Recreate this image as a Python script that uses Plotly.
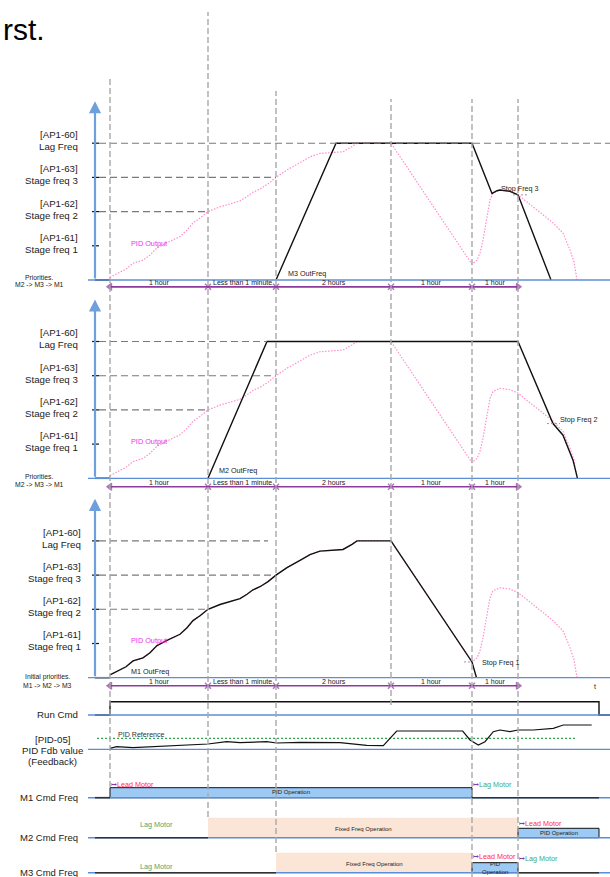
import plotly.graph_objects as go

W, H = 610, 877
FONT = "Liberation Sans, Arial, sans-serif"

# ---------------- data ----------------
EVENT_T = [0, 9.8, 16.6, 28.1, 36.2, 40.8]
SEG_LABELS = ["1 hour", "Less than 1 minute", "2 hours", "1 hour", "1 hour"]

LEVELS = [10, 20, 30, 40]
LEVEL_CODES = ["[AP1-61]", "[AP1-62]", "[AP1-63]", "[AP1-60]"]
LEVEL_NAMES = ["Stage freq 1", "Stage freq 2", "Stage freq 3", "Lag Freq"]

PID_T = [0, 1.0, 1.6, 2.3, 3.3, 4.0, 4.7, 5.7, 6.3, 7.0, 7.7, 8.3, 9.0, 9.8, 11.0, 12.3,
         13.0, 13.7, 14.3, 15.0, 15.8, 16.6, 17.7, 19.0, 20.0, 21.0, 23.3, 24.2, 24.7, 28.1,
         36.2, 36.7, 37.0, 37.3, 37.7, 38.0, 38.3, 39.0, 40.0, 40.8, 42.3, 44.3, 45.3, 46.0,
         46.4, 46.7]
PID_F = [0.8, 2.4, 3.2, 4.9, 5.8, 7.3, 9.4, 10.9, 11.7, 12.7, 14.6, 16.7, 18.1, 20.0, 21.4, 22.5,
         23.1, 24.4, 25.7, 26.6, 28.1, 30.0, 32.2, 34.3, 36.0, 37.0, 37.5, 39.0, 40.0, 40.0,
         4.6, 5.8, 7.9, 11.7, 18.5, 23.4, 25.4, 26.3, 25.9, 24.9, 21.4, 16.7, 13.7, 8.8,
         5.3, 0]

M3_OUT_T = [16.6, 22.6, 36.2, 38.2, 38.7, 39.0, 40.0, 40.8, 44.1]
M3_OUT_F = [0, 40, 40, 25.3, 26.1, 26.3, 25.9, 24.9, 0]
M2_OUT_T = [9.8, 15.7, 40.8, 44.3, 45.3, 46.3, 46.75]
M2_OUT_F = [0, 40, 40, 16.0, 12.6, 5.3, 0]
M1_STOP_T = 36.65
STOP_FREQS = [24.9, 16.0, 4.6]

RUN_T = [-1.5, 0, 0, 48.9, 48.9, 50]
RUN_V = [0, 0, 1, 1, 0, 0]

FDB_T = [0, 0.67, 2.3, 5.67, 9.0, 9.8, 11.67, 13.0, 15.67, 16.67, 19.0, 23.0, 25.67, 27.33,
         28.67, 35.27, 36.0, 36.83, 37.5, 38.33, 39.0, 40.0, 40.8, 42.33, 44.33, 45.33, 48.17]
FDB_V = [1.0, 2.6, 1.6, 3.3, 4.3, 5.3, 7.6, 6.6, 7.6, 6.3, 7.0, 6.6, 4.0, 3.6,
         18.3, 18.3, 9.3, 4.3, 7.6, 17.6, 19.3, 17.6, 19.3, 19.3, 21.0, 24.3, 24.3]
PID_REF = 11

MOTORS = ["M1 Cmd Freq", "M2 Cmd Freq", "M3 Cmd Freq"]
# (start, end, kind) kind: pid / fixed
MOTOR_BARS = [
    [(0, 36.2, "pid")],
    [(9.8, 40.8, "fixed"), (40.8, 48.9, "pid")],
    [(16.6, 36.2, "fixed"), (36.2, 40.8, "pid")],
]
BAR_HEIGHT = {"pid": 10, "fixed": 20}
MOTOR_IDLE = [[(-1.5, 0), (36.2, 48.9)], [(-1.5, 9.8)], [(-1.5, 16.6), (40.8, 48.9)]]

# ---------------- styles ----------------
AX_BLUE = "#6f9fdc"
BASE_BLUE = "#5b8ed6"
PURPLE = "#8e3a9d"
PINK = "#ff8fcc"
HDASH = "#7a7a7a"
VDASH = "#a8a8a8"
GREEN = "#45a872"
RED = "#ff3030"
MAGENTA = "#ee2eee"
BAR_BLUE = "#9ccaf5"
PEACH = "#fbe5d6"
TXT = "#222222"

# y-axes: (name, base pixel, px per unit)
AXES = [("y", 280, 3.42), ("y2", 478.3, 3.42), ("y3", 677.7, 3.42),
        ("y4", 715, 13.3), ("y5", 749.3, 1.0),
        ("y6", 797.7, 1.0), ("y7", 837.7, 1.0), ("y8", 872.7, 1.0)]

fig = go.Figure()
ann = []
shapes = []


def line(x, y, yax, color, width=1.3, dash=None, shape="linear"):
    fig.add_trace(go.Scatter(x=x, y=y, mode="lines", yaxis=yax, xaxis="x",
                             line=dict(color=color, width=width, dash=dash, shape=shape),
                             hoverinfo="skip"))


def txt(x, y, yref, text, size, color=TXT, xanchor="center", yanchor="middle"):
    ann.append(dict(x=x, y=y, xref="x", yref=yref, text=text, showarrow=False,
                    font=dict(size=size, color=color, family=FONT),
                    xanchor=xanchor, yanchor=yanchor))


def hseg(x0, x1, y, yref, color, width=1.2, dash=None):
    shapes.append(dict(type="line", xref="x", yref=yref, x0=x0, x1=x1, y0=y, y1=y,
                       line=dict(color=color, width=width, dash=dash)))


# ---------------- frequency panels ----------------
PANELS = [
    dict(y="y", out_t=M3_OUT_T, out_f=M3_OUT_F, out_lbl="M3 OutFreq", out_lbl_pos=(17.6, 2.0),
         stop_lbl="Stop Freq 3", stop_lbl_pos=(38.9, 26.8), stop_dash=(40.3, 41.7),
         dash_end=[None, 9.8, 16.6, 50], lbl_x=-3.0, row=-2.0,
         prio=["Priorities.", "M2 -> M3 -> M1"], prio_pos=(-7.1, 0.67, -1.26)),
    dict(y="y2", out_t=M2_OUT_T, out_f=M2_OUT_F, out_lbl="M2 OutFreq", out_lbl_pos=(10.67, 2.2),
         stop_lbl="Stop Freq 2", stop_lbl_pos=(44.83, 17.3), stop_dash=(43.7, 45.0),
         dash_end=[None, 9.8, 16.6, 15.7], lbl_x=-3.0, row=-2.45,
         prio=["Priorities.", "M2 -> M3 -> M1"], prio_pos=(-7.1, 0.47, -1.67)),
    dict(y="y3", out_t=None, out_f=None, out_lbl="M1 OutFreq", out_lbl_pos=(1.93, 1.75),
         stop_lbl="Stop Freq 1", stop_lbl_pos=(37.0, 4.4), stop_dash=(35.4, 36.2),
         dash_end=[None, 9.8, 16.6, 15.8], lbl_x=-2.75, row=-2.35,
         prio=["Initial priorities.", "M1 -> M2 -> M3"], prio_pos=(-6.3, 0.1, -2.4)),
]

k_stop = PID_T.index(36.2)
PANELS[2]["out_t"] = PID_T[:k_stop + 1] + [M1_STOP_T]
PANELS[2]["out_f"] = PID_F[:k_stop + 1] + [0]

for i, p in enumerate(PANELS):
    yr = p["y"]
    # baseline
    hseg(-2.2, 50, 0, yr, BASE_BLUE, 1.3)
    # vertical axis with arrow
    ann.append(dict(x=-1.5, y=52.3, xref="x", yref=yr, ax=-1.5, ay=0, axref="x", ayref=yr,
                    showarrow=True, arrowhead=2, arrowsize=1.1, arrowwidth=2.2,
                    arrowcolor=AX_BLUE, text=""))
    # level dashed lines, ticks and labels
    for lv, code, name, end in zip(LEVELS, LEVEL_CODES, LEVEL_NAMES, p["dash_end"]):
        if end is not None:
            hseg(-1.1, end, lv, yr, HDASH, 1.1, "7px,4px")
        hseg(-1.8, -1.1, lv, yr, "#111111", 1.2)
        txt(p["lbl_x"], lv + 2.5, yr, code, 9.7, xanchor="right")
        txt(p["lbl_x"], lv - 1.0, yr, name, 9.7, xanchor="right")
    # PID output (pink dotted)
    line(PID_T, PID_F, yr, PINK, 1.2, "1.5px,1.5px")
    # motor output
    line([-1.5, 0], [0, 0], yr, "#111111", 1.5)
    line(p["out_t"], p["out_f"], yr, "#111111", 1.4)
    txt(1.9, 10.8, yr, "PID Output", 7.3, MAGENTA, xanchor="left")
    txt(p["out_lbl_pos"][0], p["out_lbl_pos"][1], yr, p["out_lbl"], 7.2, xanchor="left")
    sf = STOP_FREQS[i]
    hseg(p["stop_dash"][0], p["stop_dash"][1], sf, yr, "#999999", 1, "2px,2px")
    txt(p["stop_lbl_pos"][0], p["stop_lbl_pos"][1], yr, p["stop_lbl"], 7.2, xanchor="left")
    px, py1, py2 = p["prio_pos"]
    txt(px, py1, yr, p["prio"][0], 6.8)
    txt(px, py2, yr, p["prio"][1], 6.8)
    # time segment row
    row = p["row"]
    fig.add_trace(go.Scatter(
        x=EVENT_T, y=[row] * len(EVENT_T), yaxis=yr, xaxis="x", mode="lines+markers",
        line=dict(color=PURPLE, width=1.6),
        marker=dict(symbol=["triangle-left", "x-thin", "x-thin", "x-thin", "x-thin", "triangle-right"],
                    size=[6, 6, 6, 6, 6, 6], color=PURPLE, line=dict(color=PURPLE, width=1.4)),
        hoverinfo="skip"))
    for a, b, lab in zip(EVENT_T[:-1], EVENT_T[1:], SEG_LABELS):
        txt((a + b) / 2, row + 1.15, yr, lab, 7)

txt(48.5, -2.7, "y3", "t", 7)

# ---------------- Run Cmd ----------------
hseg(-2.2, 50, 0, "y4", BASE_BLUE, 1.3)
line(RUN_T, RUN_V, "y4", "#111111", 1.4)
txt(-3.0, 0.05, "y4", "Run Cmd", 9.7, xanchor="right")

# ---------------- PID feedback ----------------
hseg(-2.2, 50, 0, "y5", BASE_BLUE, 1.3)
line([-1.3, 46.7], [PID_REF, PID_REF], "y5", "#2ea84e", 1.3, "2px,2px")
line(FDB_T, FDB_V, "y5", "#111111", 1.2)
txt(3.1, PID_REF + 3.2, "y5", "PID Reference", 7.1, "#333333")
txt(-5.75, 10.3, "y5", "[PID-05]", 9.7)
txt(-5.75, -0.7, "y5", "PID Fdb value", 9.7)
txt(-5.75, -11.7, "y5", "(Feedback)", 9.7)

# ---------------- motor command rows ----------------
MOTOR_AX = ["y6", "y7", "y8"]
for m, (name, yr) in enumerate(zip(MOTORS, MOTOR_AX)):
    hseg(-2.2, 50, 0, yr, BASE_BLUE, 1.4)
    for a, b in MOTOR_IDLE[m]:
        hseg(a, b, 0, yr, "#333333", 1.6)
    for a, b, kind in MOTOR_BARS[m]:
        h = BAR_HEIGHT[kind] - (0.6 if (kind == "pid" and m == 1) else 0)
        fig.add_trace(go.Bar(
            orientation="h", y=[h / 2], x=[b - a], base=[a], width=[h], yaxis=yr, xaxis="x",
            marker=dict(color=BAR_BLUE if kind == "pid" else PEACH,
                        line=dict(color="#111111" if kind == "pid" else PEACH,
                                  width=1 if kind == "pid" else 0)),
            hoverinfo="skip"))
    txt(-3.0, 0, yr, name, 9.5, xanchor="right")

ARROW = "<span style='color:%s'>↦</span>" % PURPLE
# M1
txt(18.1, 5.7, "y6", "PID Operation", 6)
txt(-0.1, 13.4, "y6", ARROW + "Lead Motor", 7.2, RED, xanchor="left")
txt(36.1, 13.4, "y6", ARROW + "Lag Motor", 7.2, GREEN, xanchor="left")
# M2
txt(4.67, 13.7, "y7", "Lag Motor", 7.2, GREEN)
txt(25.3, 8.7, "y7", "Fixed Freq Operation", 6)
txt(40.7, 14.4, "y7", ARROW + "Lead Motor", 7.2, RED, xanchor="left")
txt(44.85, 4.5, "y7", "PID Operation", 6)
# M3
txt(4.67, 6.7, "y8", "Lag Motor", 7.2, GREEN)
txt(26.4, 8.7, "y8", "Fixed Freq Operation", 6)
txt(36.1, 16.0, "y8", ARROW + "Lead Motor", 7.2, RED, xanchor="left")
txt(38.5, 8.7, "y8", "PID", 6)
txt(38.5, 0.9, "y8", "Operation", 6)
txt(40.7, 14.4, "y8", ARROW + "Lag Motor", 7.2, GREEN, xanchor="left")

# ---------------- vertical dashed guides ----------------
V_TOP = [76, 12, 91, 99, 99, 99]
V_BOT = [787, 817, 852, 705, 877, 877]
for t, top, bot in zip(EVENT_T, V_TOP, V_BOT):
    shapes.append(dict(type="line", xref="x", yref="paper", x0=t, x1=t,
                       y0=1 - bot / H, y1=1 - top / H,
                       line=dict(color=VDASH, width=1.4, dash="6px,3px")))

# ---------------- top clipped document text ----------------
ann.append(dict(x=0.002, y=1 - 48 / H, xref="paper", yref="paper", text="rst.",
                showarrow=False, font=dict(size=30, color="#000000", family=FONT),
                xanchor="left", yanchor="bottom"))
for xp, ch in [(92, "p"), (155, "p"), (327, ","), (559, "p")]:
    ann.append(dict(x=xp / W, y=1, xref="paper", yref="paper", text=ch, showarrow=False,
                    font=dict(size=30, color="#000000", family=FONT),
                    xanchor="center", yanchor="bottom", yshift=0))

layout = dict(
    width=W, height=H, margin=dict(l=0, r=0, t=0, b=0), autosize=False,
    paper_bgcolor="white", plot_bgcolor="white", showlegend=False,
    barmode="overlay",
    xaxis=dict(range=[-11, 50], visible=False, domain=[0, 1], fixedrange=True),
    annotations=ann, shapes=shapes,
)
for n, (name, base, scale) in enumerate(AXES):
    key = "yaxis" if name == "y" else "yaxis" + name[1:]
    ax = dict(range=[-(H - base) / scale, base / scale], visible=False, domain=[0, 1],
              anchor="x", fixedrange=True)
    if name != "y":
        ax["overlaying"] = "y"
    layout[key] = ax
fig.update_layout(**layout)

fig.write_html("out.html", config={"displayModeBar": False},
               post_script="document.body.style.margin='0';document.body.style.overflow='hidden';")
